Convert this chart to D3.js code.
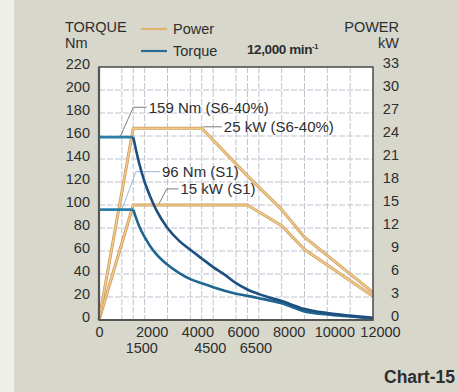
<!DOCTYPE html>
<html>
<head>
<meta charset="utf-8">
<script src="https://cdn.jsdelivr.net/npm/d3@7"></script>
<style>
  html, body { margin: 0; padding: 0; background: #d7d7cc; }
  svg { display: block; }
  text { font-family: "Liberation Sans", Arial, sans-serif; fill: #2e2e2e; }
</style>
</head>
<body>
<svg id="chart"></svg>
<script>
// speed (min-1) tick labels
const speedTicks = [0, 2000, 4000, 6000, 8000, 10000, 12000];
const speedTicksLow = [1500, 4500, 6500];
const speedGrid = [1000, 1500, 2000, 3000, 4000, 4500, 5000, 6000, 6500, 7000, 8000, 9000, 10000, 11000];
const torqueTicks = [0, 20, 40, 60, 80, 100, 120, 140, 160, 180, 200, 220];
const powerTicks = [0, 3, 6, 9, 12, 15, 18, 21, 24, 27, 30, 33];

// power curves [rpm, kW]
const powerS6 = [[0, 0], [1500, 25], [4500, 25], [6500, 18.8], [8000, 14.4], [9000, 10.8], [12000, 3.6]];
const powerS1 = [[0, 0], [1500, 15], [6500, 15], [8000, 12.3], [9000, 9.2], [12000, 3.1]];

// torque curves [rpm, Nm]
const torqueS6 = [[0, 159], [1500, 159], [1750, 137], [2000, 120], [2250, 107], [2500, 96], [3000, 80],
  [3500, 69], [4000, 61], [4500, 53.5], [5000, 46], [5500, 39.5], [6000, 32], [6500, 26.5],
  [7000, 22.5], [8000, 16.5], [9000, 9.5], [10000, 6], [11000, 3.8], [12000, 2]];
const torqueS1 = [[0, 96], [1500, 96], [1750, 82], [2000, 72], [2250, 64], [2500, 57.5], [3000, 48],
  [3500, 41], [4000, 35.5], [4500, 32], [5000, 28.5], [5500, 25.5], [6000, 22.8], [6500, 21],
  [7000, 19], [8000, 14.5], [9000, 7.5], [10000, 4.8], [11000, 3], [12000, 1.2]];

// callouts: leader points [rpm, Nm] and text
const callouts = [
  { text: "159 Nm (S6-40%)", pts: [[920, 159], [1500, 185], [2090, 185]] },
  { text: "25 kW (S6-40%)", pts: [[4560, 168], [5380, 168]] },
  { text: "96 Nm (S1)", pts: [[1000, 96], [1620, 129], [2670, 129]], light: true },
  { text: "15 kW (S1)", pts: [[2600, 100], [2965, 114], [3480, 114]] }
];

const W = 458, H = 392;
const margin = { top: 67, right: 85, bottom: 72, left: 99 };
const width = W - margin.left - margin.right;
const height = H - margin.top - margin.bottom;

const svg = d3.select("#chart").attr("width", W).attr("height", H);

// lighter strip at the left edge of the scan
svg.append("rect").attr("x", 0).attr("y", 0).attr("width", 14).attr("height", H).attr("fill", "#efefea");

const x = d3.scaleLinear().domain([0, 12000]).range([0, width]);
const y = d3.scaleLinear().domain([0, 220]).range([height, 0]);
const yP = d3.scaleLinear().domain([0, 33]).range([height, 0]);

const g = svg.append("g").attr("transform", `translate(${margin.left},${margin.top})`);

g.append("rect").attr("width", width).attr("height", height).attr("fill", "#ffffff");

// grid
g.append("g").selectAll("line").data(speedGrid).join("line")
  .attr("x1", d => x(d)).attr("x2", d => x(d)).attr("y1", 0).attr("y2", height)
  .attr("stroke", "#bfc3cf").attr("stroke-width", 1).attr("stroke-dasharray", "6,2");
g.append("g").selectAll("line").data(torqueTicks.slice(1, -1)).join("line")
  .attr("x1", 0).attr("x2", width).attr("y1", d => y(d)).attr("y2", d => y(d))
  .attr("stroke", "#bfc3cf").attr("stroke-width", 1).attr("stroke-dasharray", "6,2");

// callout leaders
const lineT = d3.line().x(d => x(d[0])).y(d => y(d[1]));
callouts.forEach(c => {
  g.append("path").attr("d", lineT(c.pts)).attr("fill", "none")
    .attr("stroke", c.light ? "#9bb9d6" : "#7d7d7d").attr("stroke-width", 1);
  const last = c.pts[c.pts.length - 1];
  g.append("text").attr("x", x(last[0]) + 2).attr("y", y(last[1])).attr("dy", "0.36em")
    .attr("font-size", 15).text(c.text);
});

// power curves
const lineP = d3.line().x(d => x(d[0])).y(d => yP(d[1]));
[powerS1, powerS6].forEach(s => {
  g.append("path").attr("d", lineP(s)).attr("fill", "none")
    .attr("stroke", "#c99a5a").attr("stroke-width", 3).attr("stroke-linejoin", "round");
  g.append("path").attr("d", lineP(s)).attr("fill", "none")
    .attr("stroke", "#f0c888").attr("stroke-width", 1.6).attr("stroke-linejoin", "round");
});

// torque curves: flat part straight, falling part smooth
const curveT = d3.line().x(d => x(d[0])).y(d => y(d[1])).curve(d3.curveMonotoneX);
[[torqueS1, "#1f6690"], [torqueS6, "#1d4f80"]].forEach(([s, col]) => {
  g.append("path").attr("d", lineT(s.slice(0, 2))).attr("fill", "none")
    .attr("stroke", "#2a7fa8").attr("stroke-width", 2.6);
  g.append("path").attr("d", curveT(s.slice(1))).attr("fill", "none")
    .attr("stroke", col).attr("stroke-width", 2.6).attr("stroke-linejoin", "round");
});

// frame
g.append("rect").attr("width", width).attr("height", height).attr("fill", "none")
  .attr("stroke", "#4a4a4a").attr("stroke-width", 1.5);
g.append("line").attr("x1", 0).attr("x2", 0).attr("y1", 0).attr("y2", height)
  .attr("stroke", "#555").attr("stroke-width", 2.2);
g.append("line").attr("x1", 0).attr("x2", width).attr("y1", height).attr("y2", height)
  .attr("stroke", "#555").attr("stroke-width", 2.2);

// axes
const styleAxis = sel => {
  sel.select(".domain").remove();
  sel.selectAll(".tick line").remove();
  sel.selectAll("text").attr("font-size", 14.5).attr("fill", "#2e2e2e")
    .attr("font-family", "Liberation Sans, Arial, sans-serif");
};

g.append("g").call(d3.axisLeft(y).tickValues(torqueTicks).tickSize(0).tickPadding(9))
  .call(styleAxis)
  .call(s => s.selectAll("text").attr("dy", "0.1em"));

g.append("g").attr("transform", `translate(${width},0)`)
  .call(d3.axisRight(yP).tickValues(powerTicks).tickSize(0).tickPadding(26))
  .call(styleAxis)
  .call(s => s.selectAll("text").attr("text-anchor", "end").attr("dy", "0.05em"));

g.append("g").attr("transform", `translate(0,${height})`)
  .call(d3.axisBottom(x).tickValues(speedTicks).tickFormat(d3.format("d")).tickSize(0).tickPadding(7))
  .call(styleAxis)
  .call(s => s.selectAll("text").attr("dx", d => d === 0 ? 0 : 7));

g.append("g").attr("transform", `translate(0,${height + 18})`)
  .call(d3.axisBottom(x).tickValues(speedTicksLow).tickFormat(d3.format("d")).tickSize(0).tickPadding(5))
  .call(styleAxis)
  .call(s => s.selectAll("text").attr("dx", 8));

// titles
svg.append("text").attr("x", 65).attr("y", 32).attr("font-size", 14.5).text("TORQUE");
svg.append("text").attr("x", 65).attr("y", 47.5).attr("font-size", 14.5).text("Nm");
svg.append("text").attr("x", 399).attr("y", 32).attr("font-size", 14.5).attr("text-anchor", "end").text("POWER");
svg.append("text").attr("x", 399).attr("y", 47.5).attr("font-size", 14.5).attr("text-anchor", "end").text("kW");

const speedLbl = svg.append("text").attr("x", 247).attr("y", 53.5).attr("font-size", 13.5)
  .attr("font-weight", "bold").attr("letter-spacing", "-0.4");
speedLbl.append("tspan").text("12,000 min");
speedLbl.append("tspan").attr("dy", -5).attr("font-size", 7.5).text("-1");

// legend
const legend = [["Power", "#e3b470", 29], ["Torque", "#2a6e98", 51]];
legend.forEach(([name, col, ly]) => {
  svg.append("line").attr("x1", 141).attr("x2", 167).attr("y1", ly).attr("y2", ly)
    .attr("stroke", col).attr("stroke-width", 2.2);
  svg.append("text").attr("x", 173).attr("y", ly + 4.7).attr("font-size", 14.5).text(name);
});

svg.append("text").attr("x", 455).attr("y", 383).attr("font-size", 17.5).attr("font-weight", "bold")
  .attr("fill", "#333").attr("text-anchor", "end").text("Chart-15");
</script>
</body>
</html>
